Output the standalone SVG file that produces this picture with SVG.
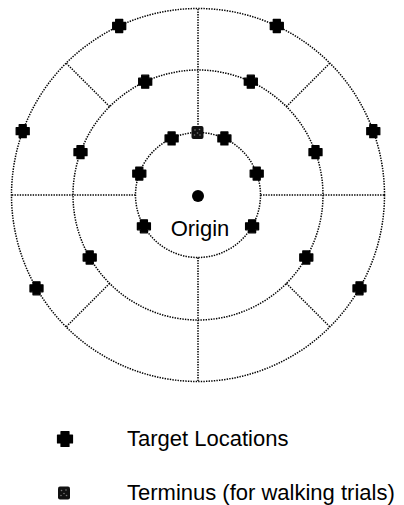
<svg xmlns="http://www.w3.org/2000/svg" xmlns:xlink="http://www.w3.org/1999/xlink" width="404" height="505" viewBox="0 0 404 505">
<style>
.ring{fill:none;stroke:#000;stroke-width:1.5;stroke-dasharray:1.4 1.2}
.rad{fill:none;stroke:#000;stroke-width:1.5;stroke-dasharray:1.4 1.2}
.lbl{font-family:"Liberation Sans",Arial,Helvetica,sans-serif;font-size:22px;fill:#000}
</style>
<defs>
<path id="plus" d="M-3.5,-6.5 h7 v3 h3 v7 h-3 v3 h-7 v-3 h-3 v-7 h3 z" fill="#000" stroke="#000" stroke-width="1.3" stroke-linejoin="round"/>
<path id="plusL" d="M-4,-7.5 h8 v3.5 h3.5 v8 h-3.5 v3.5 h-8 v-3.5 h-3.5 v-8 h3.5 z" fill="#000" stroke="#000" stroke-width="1.2" stroke-linejoin="round"/>
<g id="term">
<rect x="-6" y="-6.5" width="12" height="13" rx="2" fill="#111"/>
<circle cx="-2.5" cy="-2.5" r="0.8" fill="#777"/>
<circle cx="2" cy="-3" r="0.8" fill="#777"/>
<circle cx="0" cy="0.5" r="0.8" fill="#777"/>
<circle cx="-3" cy="2.5" r="0.8" fill="#777"/>
<circle cx="2.5" cy="2.5" r="0.8" fill="#777"/>
</g>
</defs>
<rect width="404" height="505" fill="#fff"/>
<g id="rings">
<circle class="ring" cx="198" cy="195" r="186.5"/>
<circle class="ring" cx="198" cy="195" r="125"/>
<circle class="ring" cx="198" cy="195" r="62.5"/>
</g>
<g id="connectors">
<line class="rad" x1="198" y1="132.5" x2="198" y2="8.5"/>
<line class="rad" x1="198" y1="257.5" x2="198" y2="381.5"/>
<line class="rad" x1="135.5" y1="195" x2="11.5" y2="195"/>
<line class="rad" x1="260.5" y1="195" x2="384.5" y2="195"/>
<line class="rad" x1="109.6" y1="106.6" x2="66.1" y2="63.1"/>
<line class="rad" x1="286.4" y1="106.6" x2="329.9" y2="63.1"/>
<line class="rad" x1="109.6" y1="283.4" x2="66.1" y2="326.9"/>
<line class="rad" x1="286.4" y1="283.4" x2="329.9" y2="326.9"/>
</g>
<g id="origin">
<circle cx="198" cy="196" r="6" fill="#000"/>
<text class="lbl" x="200" y="236" text-anchor="middle">Origin</text>
</g>
<g id="targets-inner">
<use xlink:href="#plus" x="171.6" y="138.4"/>
<use xlink:href="#plus" x="224.4" y="138.4"/>
<use xlink:href="#plus" x="139.3" y="173.6"/>
<use xlink:href="#plus" x="256.7" y="173.6"/>
<use xlink:href="#plus" x="143.9" y="226.3"/>
<use xlink:href="#plus" x="252.1" y="226.3"/>
</g>
<g id="terminus">
<use xlink:href="#term" x="197.5" y="132.5"/>
</g>
<g id="targets-middle">
<use xlink:href="#plus" x="145.2" y="81.7"/>
<use xlink:href="#plus" x="250.8" y="81.7"/>
<use xlink:href="#plus" x="80.5" y="152.2"/>
<use xlink:href="#plus" x="315.5" y="152.2"/>
<use xlink:href="#plus" x="89.7" y="257.5"/>
<use xlink:href="#plus" x="306.3" y="257.5"/>
</g>
<g id="targets-outer">
<use xlink:href="#plus" x="119.2" y="26"/>
<use xlink:href="#plus" x="276.8" y="26"/>
<use xlink:href="#plus" x="22.7" y="131.2"/>
<use xlink:href="#plus" x="373.3" y="131.2"/>
<use xlink:href="#plus" x="36.5" y="288.3"/>
<use xlink:href="#plus" x="359.5" y="288.3"/>
</g>
<g id="legend-target">
<use xlink:href="#plusL" x="65" y="439"/>
<text class="lbl" x="127" y="446">Target Locations</text>
</g>
<g id="legend-terminus">
<use xlink:href="#term" x="64" y="493"/>
<text class="lbl" x="127" y="499.5">Terminus (for walking trials)</text>
</g>
</svg>
